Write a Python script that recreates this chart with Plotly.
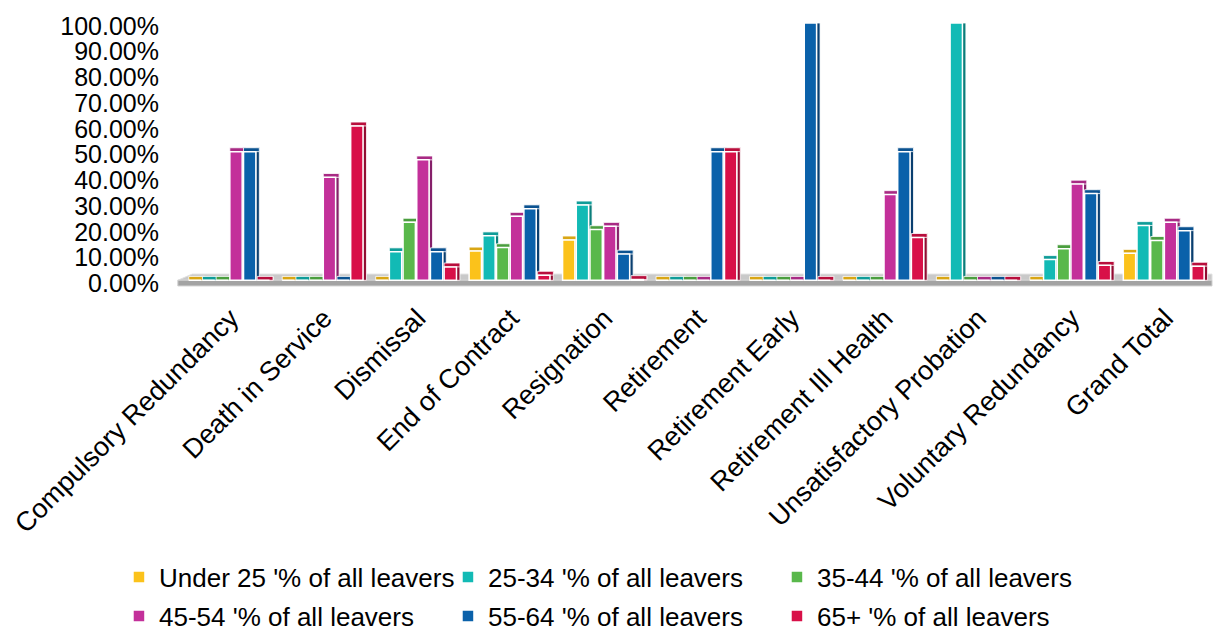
import plotly.graph_objects as go

categories = [
    "Compulsory Redundancy", "Death in Service", "Dismissal", "End of Contract",
    "Resignation", "Retirement", "Retirement Early", "Retirement Ill Health",
    "Unsatisfactory Probation", "Voluntary Redundancy", "Grand Total",
]

under_25 = [0.0, 0.0, 0.0, 0.114, 0.157, 0.0, 0.0, 0.0, 0.0, 0.0, 0.105]
age_25_34 = [0.0, 0.0, 0.111, 0.173, 0.293, 0.0, 0.0, 0.0, 1.0, 0.081, 0.213]
age_35_44 = [0.0, 0.0, 0.226, 0.127, 0.197, 0.0, 0.0, 0.0, 0.0, 0.123, 0.155]
age_45_54 = [0.5, 0.4, 0.468, 0.249, 0.21, 0.0, 0.0, 0.3333, 0.0, 0.374, 0.226]
age_55_64 = [0.5, 0.0, 0.111, 0.278, 0.102, 0.5, 1.0, 0.5, 0.0, 0.337, 0.193]
age_65_plus = [0.0, 0.6, 0.052, 0.02, 0.003, 0.5, 0.0, 0.1667, 0.0, 0.058, 0.055]

series_names = [
    "Under 25 '% of all leavers", "25-34 '% of all leavers", "35-44 '% of all leavers",
    "45-54 '% of all leavers", "55-64 '% of all leavers", "65+ '% of all leavers",
]
series_values = [under_25, age_25_34, age_35_44, age_45_54, age_55_64, age_65_plus]
front_colors = ["#FBC21B", "#12BAB5", "#59B84B", "#C3309A", "#0A61AA", "#D81048"]
side_colors = ["#B8890A", "#0B7E7B", "#3C8232", "#86206A", "#0A3F70", "#920B31"]
top_colors = ["#D9A614", "#0F9C98", "#4A9E3E", "#A82A84", "#0B5290", "#B80E3C"]

tick_vals = [i / 10 for i in range(11)]
tick_text = [f"{v * 100:.2f}%" for v in tick_vals]

# pseudo-3D bar geometry, in category units
FRONT_W = 0.132
SIDE_W = 0.037
STEP = 0.1465
START = -0.449
DEPTH = 0.015  # height of the top face, in value units

fig = go.Figure()
for i, (name, vals, fc, sc, tc) in enumerate(
        zip(series_names, series_values, front_colors, side_colors, top_colors)):
    off = START + i * STEP
    # right-hand side face
    fig.add_trace(go.Bar(
        x=categories, y=[v + DEPTH for v in vals], base=0,
        offset=off + FRONT_W, width=SIDE_W,
        marker=dict(color=sc, line=dict(color="white", width=0.8)),
        showlegend=False, hoverinfo="skip",
    ))
    # top face
    fig.add_trace(go.Bar(
        x=categories, y=[DEPTH] * len(vals), base=vals,
        offset=off, width=FRONT_W + SIDE_W,
        marker=dict(color=tc, line=dict(color="white", width=0.8)),
        showlegend=False, hoverinfo="skip",
    ))
    # front face
    fig.add_trace(go.Bar(
        x=categories, y=vals, base=0, name=name,
        offset=off, width=FRONT_W,
        marker=dict(color=fc, line=dict(color="white", width=1.5)),
        legend="legend" if i < 3 else "legend2",
    ))

# grey floor: light top face and darker front edge
fig.add_shape(type="path", xref="paper", yref="y",
              path="M -0.006,0 L 1.0,0 L 1.0,0.024 L 0.008,0.024 Z",
              fillcolor="#C9C9C9", line=dict(color="#E0E0E0", width=1), layer="below")
fig.add_shape(type="rect", xref="paper", yref="y", x0=-0.006, x1=1.0, y0=-0.022, y1=0.0,
              fillcolor="#A3A3A3", line=dict(color="#D0D0D0", width=1), layer="below")

font = "Liberation Sans, Arial, sans-serif"
legend_common = dict(
    orientation="h", xref="container", yref="container",
    x=0.098, xanchor="left", yanchor="middle",
    entrywidth=284, entrywidthmode="pixels",
    font=dict(size=26, color="black"), itemwidth=30,
    bgcolor="rgba(0,0,0,0)",
)

fig.update_layout(
    width=1214, height=635,
    margin=dict(l=184, r=2, t=23, b=347),
    paper_bgcolor="white", plot_bgcolor="white",
    barmode="overlay",
    font=dict(family=font, size=25, color="black"),
    xaxis=dict(tickangle=-45, showgrid=False, showline=False, ticks="",
               tickfont=dict(size=27), ticklabelstandoff=8),
    yaxis=dict(range=[-0.03, 1.0], tickvals=tick_vals, ticktext=tick_text,
               showgrid=False, zeroline=False, showline=False, ticks="",
               tickfont=dict(size=25), ticklabelstandoff=24, ticklabelshift=3),
    legend=dict(y=1 - 577 / 635, **legend_common),
    legend2=dict(y=1 - 616 / 635, **legend_common),
    showlegend=True,
)

fig.write_html("out.html")
